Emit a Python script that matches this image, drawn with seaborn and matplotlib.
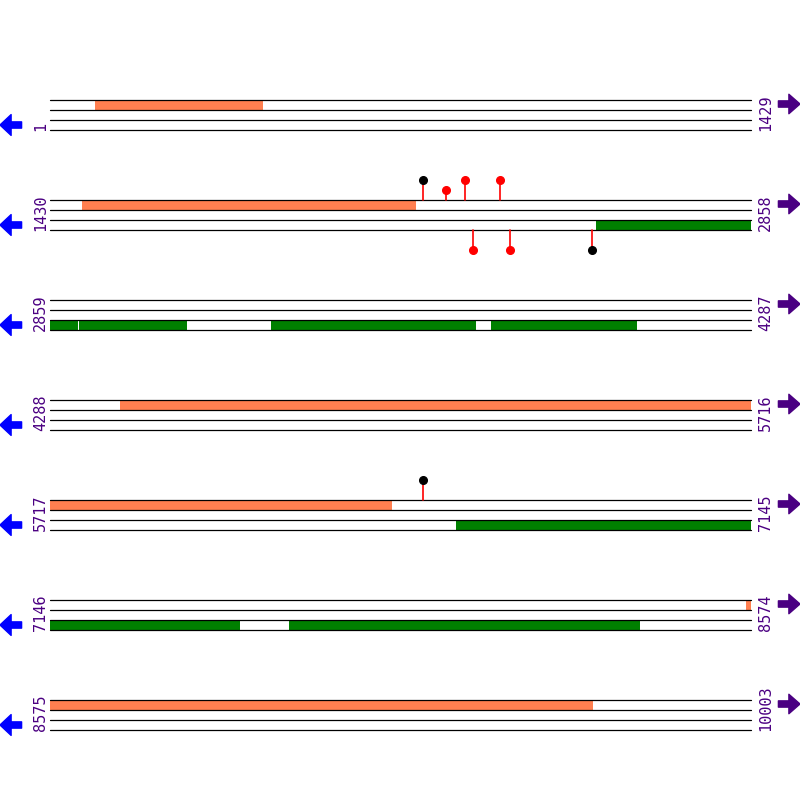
import seaborn as sns
import matplotlib.pyplot as plt
import matplotlib.transforms as mtransforms
from matplotlib.patches import Rectangle
import pandas as pd

sns.set_theme(style="white")

genome_len = 10003
row_len = 1429

# forward-strand ORFs (orange) and reverse-strand ORFs (green), genome coordinates
fwd_start = [92, 1495, 4431, 8565]
fwd_end = [434, 2176, 6414, 9680]
rev_start = [2543, 2918, 3309, 3758, 6545, 7633]
rev_end = [2916, 3138, 3727, 4054, 7533, 8347]

# sites shown as lollipops: position, strand, height level, head colour
site_pos = [2190, 2237, 2276, 2347, 2292, 2368, 2535, 6477]
site_strand = ["+", "+", "+", "+", "-", "-", "-", "+"]
site_level = [2, 1, 2, 2, 2, 2, 2, 2]
site_color = ["black", "red", "red", "red", "red", "red", "black", "black"]

row_starts = list(range(1, genome_len + 1, row_len))
row_ends = [min(s + row_len - 1, genome_len) for s in row_starts]

orange = "#FF7F50"
green = "#008000"
purple = "#4B0082"

fig = plt.figure(figsize=(8, 8), dpi=100)
ax = fig.add_axes([0, 0, 1, 1])
px = row_len / 701.0
ax.set_xlim(-50 * px, row_len + 49 * px)
ax.set_ylim(8, 0)
ax.axis("off")

band = 0.1
blend = mtransforms.blended_transform_factory(ax.transAxes, ax.transData)


def draw_segments(starts, ends, top, color):
    for s, e in zip(starts, ends):
        for r, rs in enumerate(row_starts):
            re_ = row_ends[r]
            a, b = max(s, rs), min(e, re_)
            if a > b:
                continue
            ax.add_patch(Rectangle((a - rs, r + 1 + top), b - a + 1, band,
                                   facecolor=color, edgecolor="none", zorder=2))


for r, rs in enumerate(row_starts):
    y0 = r + 1
    for k in range(4):
        ax.plot([0, row_len], [y0 + k * band] * 2, color="black", lw=0.9, zorder=3)
    ax.text(0.051, y0 + 0.31, str(rs), transform=blend, rotation=90,
            ha="center", va="bottom", color=purple, fontsize=11,
            family="DejaVu Sans Mono")
    ax.text(0.957, y0 + 0.31, str(row_ends[r]), transform=blend, rotation=90,
            ha="center", va="bottom", color=purple, fontsize=11,
            family="DejaVu Sans Mono")
    ax.annotate("", xy=(0.0, y0 + 0.25), xytext=(0.027, y0 + 0.25),
                xycoords=blend, textcoords=blend,
                arrowprops=dict(arrowstyle="simple,head_length=0.8,head_width=1.5,tail_width=0.45",
                                color="blue", shrinkA=0, shrinkB=0, mutation_scale=10))
    ax.annotate("", xy=(1.0, y0 + 0.04), xytext=(0.973, y0 + 0.04),
                xycoords=blend, textcoords=blend,
                arrowprops=dict(arrowstyle="simple,head_length=0.8,head_width=1.4,tail_width=0.45",
                                color=purple, shrinkA=0, shrinkB=0, mutation_scale=10))

draw_segments(fwd_start, fwd_end, 0.0, orange)
draw_segments(rev_start, rev_end, 2 * band, green)

sites = pd.DataFrame({"pos": site_pos, "strand": site_strand,
                      "level": site_level, "color": site_color})
for _, s in sites.iterrows():
    r = (s["pos"] - 1) // row_len
    x = s["pos"] - row_starts[r]
    if s["strand"] == "+":
        base = r + 1
        tip = base - s["level"] * band
    else:
        base = r + 1 + 3 * band
        tip = base + s["level"] * band
    ax.plot([x, x], [base, tip], color="red", lw=1.2, zorder=4)
    ax.plot(x, tip, "o", color=s["color"], markersize=5.5, zorder=5)

fig.savefig("out.png", dpi=100)
